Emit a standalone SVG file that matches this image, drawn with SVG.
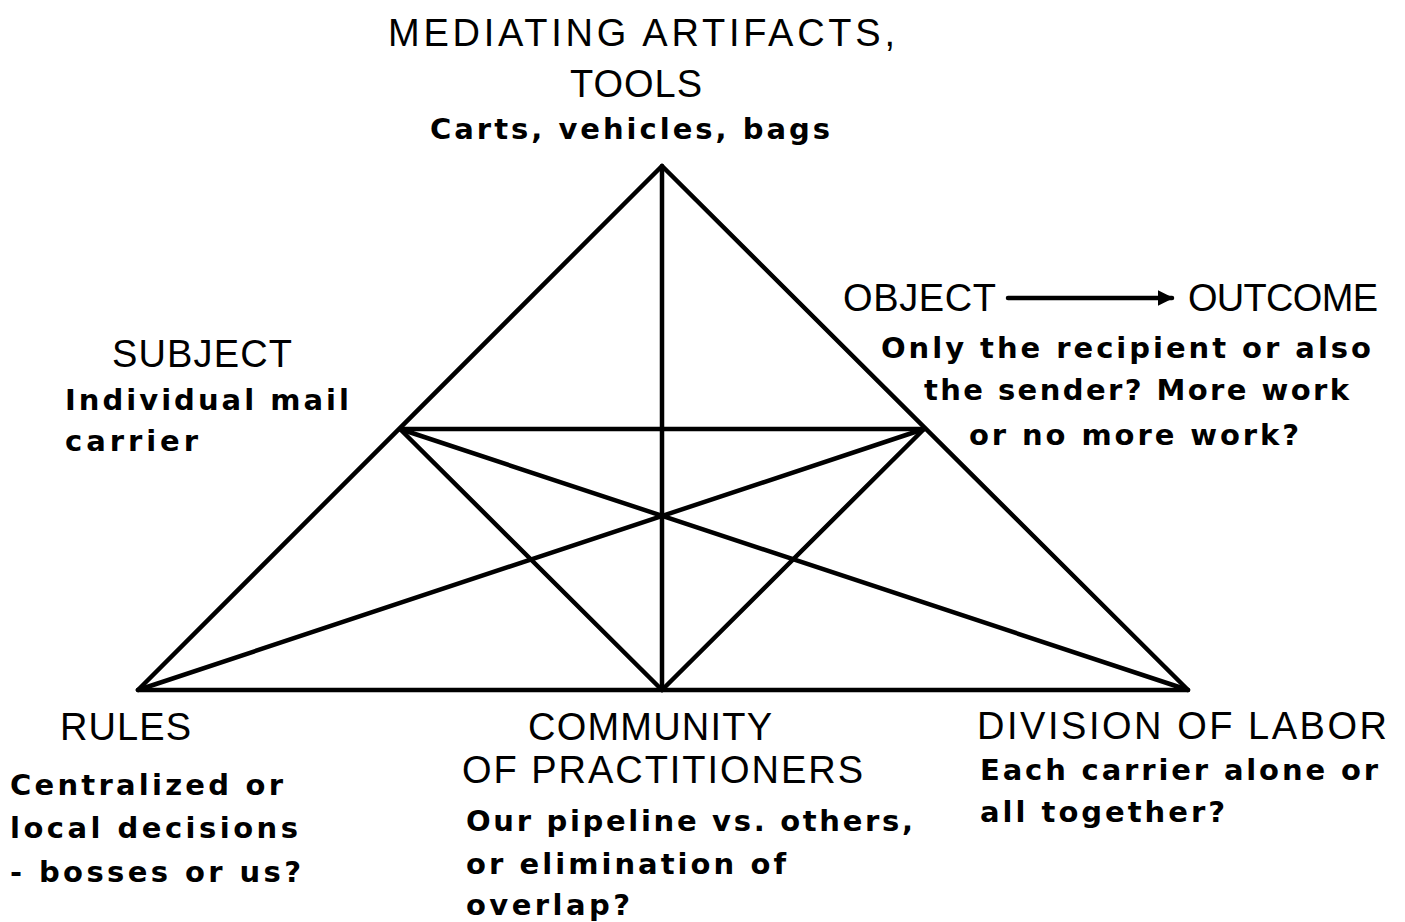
<svg xmlns="http://www.w3.org/2000/svg" width="1405" height="922" viewBox="0 0 1405 922">
<defs>
<style>
.h{font-family:"Liberation Sans",Arial,sans-serif;font-size:38px;fill:#000}
.b{font-family:"DejaVu Sans","Liberation Sans",sans-serif;font-weight:bold;font-size:29px;fill:#000}
.ln{stroke:#000;stroke-width:4.5;fill:none;stroke-linecap:round;stroke-linejoin:round}
</style>
<marker id="ah" viewBox="0 0 10 10" refX="9" refY="5" markerWidth="3.5" markerHeight="3.5" orient="auto" markerUnits="strokeWidth">
<path d="M0,0 L10,5 L0,10 Z" fill="#000"/>
</marker>
</defs>
<rect width="1405" height="922" fill="#fff"/>
<g id="connectors">
<polygon class="ln" points="662,166 138,690 1188,690"/>
<line class="ln" x1="662" y1="166" x2="662" y2="690"/>
<line class="ln" x1="400" y1="429" x2="924" y2="429"/>
<line class="ln" x1="400" y1="429" x2="662" y2="690"/>
<line class="ln" x1="924" y1="429" x2="662" y2="690"/>
<line class="ln" x1="400" y1="429" x2="1188" y2="690"/>
<line class="ln" x1="924" y1="429" x2="138" y2="690"/>
<line class="ln" x1="1008" y1="298" x2="1172" y2="298" marker-end="url(#ah)"/>
</g>
<g id="node-tools">
<text class="h" x="388" y="46" textLength="507" lengthAdjust="spacing">MEDIATING ARTIFACTS,</text>
<text class="h" x="570" y="97" textLength="132" lengthAdjust="spacing">TOOLS</text>
<text class="b" x="430" y="139" textLength="400" lengthAdjust="spacing">Carts, vehicles, bags</text>
</g>
<g id="node-subject">
<text class="h" x="112" y="367" textLength="180" lengthAdjust="spacing">SUBJECT</text>
<text class="b" x="65" y="410" textLength="284" lengthAdjust="spacing">Individual mail</text>
<text class="b" x="65" y="451" textLength="133" lengthAdjust="spacing">carrier</text>
</g>
<g id="node-object">
<text class="h" x="843" y="311" textLength="153" lengthAdjust="spacing">OBJECT</text>
</g>
<g id="node-outcome">
<text class="h" x="1188" y="311" textLength="190" lengthAdjust="spacing">OUTCOME</text>
<text class="b" x="881" y="358" textLength="490" lengthAdjust="spacing">Only the recipient or also</text>
<text class="b" x="924" y="400" textLength="425" lengthAdjust="spacing">the sender? More work</text>
<text class="b" x="969" y="445" textLength="330" lengthAdjust="spacing">or no more work?</text>
</g>
<g id="node-rules">
<text class="h" x="60" y="740" textLength="131" lengthAdjust="spacing">RULES</text>
<text class="b" x="10" y="795" textLength="273" lengthAdjust="spacing">Centralized or</text>
<text class="b" x="10" y="838" textLength="288" lengthAdjust="spacing">local decisions</text>
<text class="b" x="10" y="882" textLength="291" lengthAdjust="spacing">- bosses or us?</text>
</g>
<g id="node-community">
<text class="h" x="528" y="740" textLength="244" lengthAdjust="spacing">COMMUNITY</text>
<text class="h" x="462" y="783" textLength="401" lengthAdjust="spacing">OF PRACTITIONERS</text>
<text class="b" x="466" y="831" textLength="447" lengthAdjust="spacing">Our pipeline vs. others,</text>
<text class="b" x="466" y="874" textLength="320" lengthAdjust="spacing">or elimination of</text>
<text class="b" x="466" y="915" textLength="164" lengthAdjust="spacing">overlap?</text>
</g>
<g id="node-division">
<text class="h" x="977" y="739" textLength="410" lengthAdjust="spacing">DIVISION OF LABOR</text>
<text class="b" x="980" y="780" textLength="398" lengthAdjust="spacing">Each carrier alone or</text>
<text class="b" x="980" y="822" textLength="245" lengthAdjust="spacing">all together?</text>
</g>
</svg>
